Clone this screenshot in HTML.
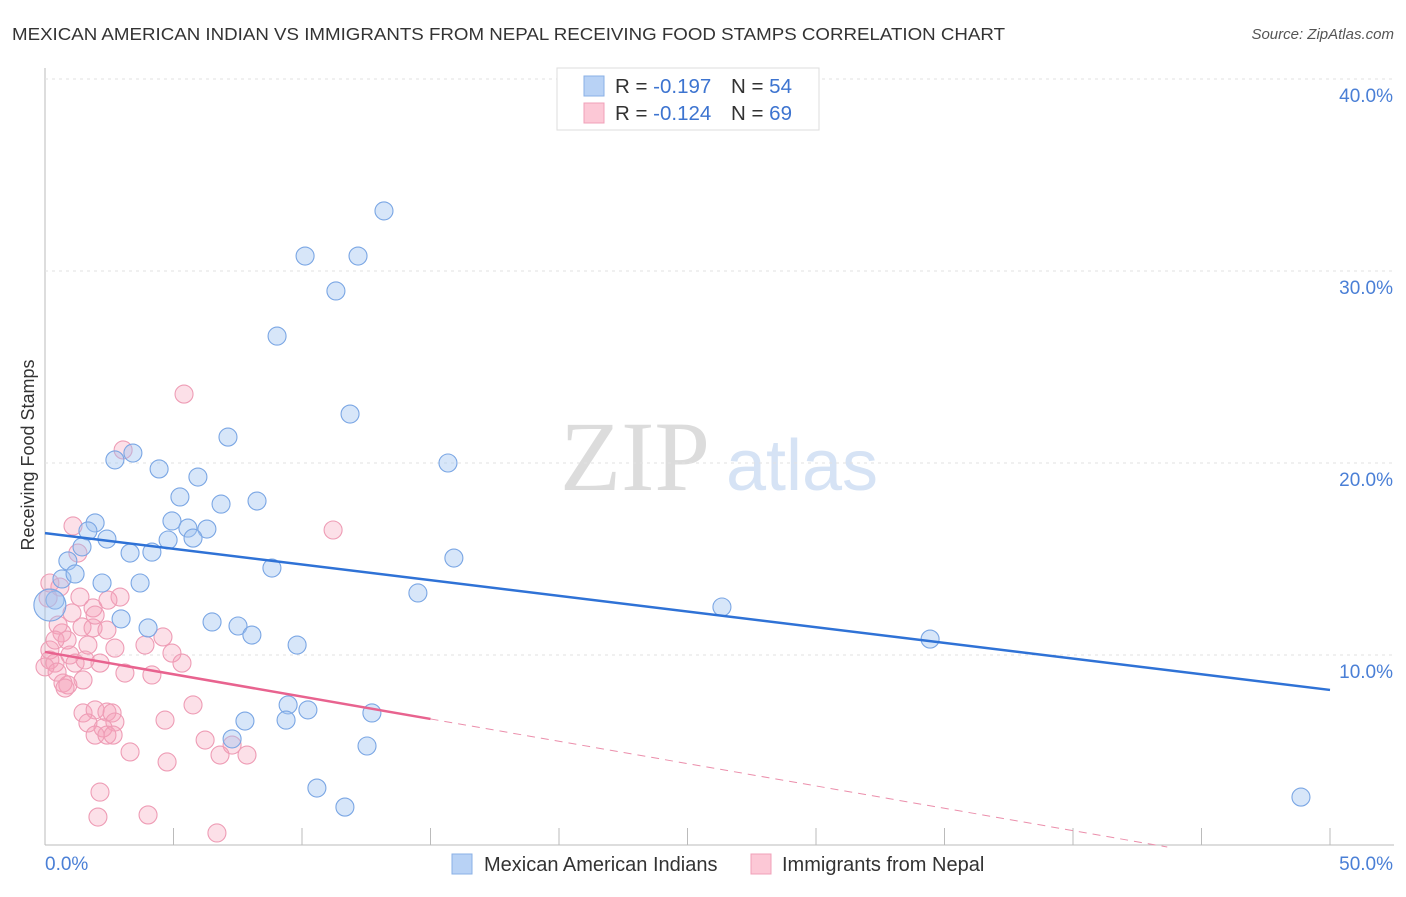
<!DOCTYPE html>
<html><head><meta charset="utf-8"><style>
body{margin:0;background:#fff;font-family:"Liberation Sans",sans-serif}
svg text{font-family:"Liberation Sans",sans-serif}
</style></head><body>
<svg id="c" width="1406" height="892" viewBox="0 0 1406 892" xmlns="http://www.w3.org/2000/svg">
<text x="12" y="40" font-size="17.5" fill="#333" textLength="993" lengthAdjust="spacingAndGlyphs">MEXICAN AMERICAN INDIAN VS IMMIGRANTS FROM NEPAL RECEIVING FOOD STAMPS CORRELATION CHART</text>
<text x="1394" y="39" font-size="15" fill="#555" font-style="italic" text-anchor="end">Source: ZipAtlas.com</text>
<text x="635" y="490" font-size="100" fill="#dcdcdc" text-anchor="middle" font-family="Liberation Serif" style="font-family:'Liberation Serif',serif">ZIP</text>
<text x="802" y="490" font-size="72" fill="#d6e3f5" text-anchor="middle">atlas</text>
<text transform="translate(34,455) rotate(-90)" font-size="18" fill="#333" text-anchor="middle">Receiving Food Stamps</text>
<g id="grid"></g><g id="marks"></g><g id="lines"></g>
<g>
<rect x="557" y="68" width="262" height="62" fill="#fff" stroke="#ddd"/>
<rect x="584" y="76" width="20" height="20" fill="#b8d2f5" stroke="#8ab0e6"/>
<rect x="584" y="103" width="20" height="20" fill="#fcc8d6" stroke="#f0a0b8"/>
<text x="615" y="93" font-size="20.5" fill="#333">R = <tspan fill="#3d74d0">-0.197</tspan><tspan x="731">N = </tspan><tspan fill="#3d74d0">54</tspan></text>
<text x="615" y="120" font-size="20.5" fill="#333">R = <tspan fill="#3d74d0">-0.124</tspan><tspan x="731">N = </tspan><tspan fill="#3d74d0">69</tspan></text>
</g>
<g>
<rect x="452" y="854" width="20" height="20" fill="#b8d2f5" stroke="#8ab0e6"/>
<text x="484" y="871" font-size="20" fill="#333">Mexican American Indians</text>
<rect x="751" y="854" width="20" height="20" fill="#fcc8d6" stroke="#f0a0b8"/>
<text x="782" y="871" font-size="20" fill="#333">Immigrants from Nepal</text>
</g>
</svg>
<script>
const xTicks=[0,5,10,15,20,25,30,35,40,45,50];
const yTicks=[10,20,30,40];
const yTickLabels=["10.0%","20.0%","30.0%","40.0%"];
const blueX=[13.19,10.12,12.18,11.32,9.03,11.87,7.12,15.68,3.42,2.72,4.44,5.95,5.25,6.85,8.25,1.95,4.94,1.67,5.56,6.30,2.41,4.79,5.76,3.31,4.16,15.91,0.89,1.44,8.83,0.66,1.17,2.22,3.70,14.51,26.34,0.39,2.96,4.01,6.50,7.51,8.05,9.81,34.44,9.46,10.23,12.72,7.78,9.38,7.28,12.53,10.58,11.67,48.87,0.19];
const blueY=[33.13,30.78,30.78,28.96,26.61,22.55,21.35,20.0,20.52,20.16,19.69,19.27,18.23,17.86,18.02,16.88,16.98,16.46,16.61,16.56,16.04,15.99,16.09,15.31,15.36,15.05,14.9,15.63,14.53,13.96,14.22,13.75,13.75,13.23,12.5,12.86,11.88,11.41,11.72,11.51,11.04,10.52,10.83,7.40,7.14,6.98,6.56,6.61,5.63,5.26,3.07,2.08,2.60,12.6];
const pinkX=[5.41,3.04,11.21,1.09,1.28,0.19,0.58,1.36,2.92,1.87,1.05,1.44,1.87,2.41,0.66,0.86,1.67,2.72,3.89,4.59,4.94,5.33,0.19,0.39,1.17,2.14,0.0,0.47,3.11,4.16,1.48,0.70,0.89,0.78,5.76,1.48,1.95,2.41,2.61,1.67,2.72,2.26,1.95,2.41,2.65,4.67,6.23,7.28,6.81,7.86,3.31,4.75,2.14,2.06,4.01,6.69,0.12,0.51,1.95,2.45,0.19,1.56,0.97,0.39];
const pinkY=[23.59,20.68,16.51,16.72,15.31,13.75,13.54,13.02,13.02,12.45,12.19,11.46,11.41,11.30,11.15,10.78,10.52,10.36,10.52,10.94,10.10,9.58,9.74,9.58,9.58,9.58,9.38,9.11,9.06,8.96,8.70,8.54,8.44,8.28,7.40,6.98,7.14,7.03,6.98,6.46,6.51,6.20,5.83,5.83,5.83,6.61,5.57,5.31,4.79,4.79,4.95,4.43,2.86,1.56,1.67,0.73,12.97,11.56,12.08,12.86,10.26,9.74,10.0,10.78];
const blueFit=[16.35,8.18];
const pinkFit=[10.16,6.67];
const pinkSolidEnd=15;
const NS="http://www.w3.org/2000/svg";
const X=v=>45+v*25.7, Y=v=>847-v*19.2;
function mk(t,a,p){const e=document.createElementNS(NS,t);for(const k in a)e.setAttribute(k,a[k]);p.appendChild(e);return e;}
const grid=document.getElementById('grid'),marks=document.getElementById('marks'),lines=document.getElementById('lines');
let ax=mk('line',{x1:45,y1:68,x2:45,y2:845,stroke:'#bbb'},grid);


let xa=mk('line',{x1:45,y1:845,x2:1394,y2:845,stroke:'#bbb'},grid);


mk('line',{x1:45,y1:79,x2:1394,y2:79,stroke:'#e2e2e2','stroke-dasharray':'3,4'},grid);
yTicks.forEach((t,i)=>{
 const g=mk('line',{x1:45,y1:Y(t),x2:1394,y2:Y(t),stroke:'#e2e2e2','stroke-dasharray':'3,4'},grid);
 
 
 const l=mk('text',{x:1393,y:Y(t)+23,'font-size':19,fill:'#4a7fd6','text-anchor':'end'},grid);l.textContent=yTickLabels[i];
 
 
});
xTicks.forEach((t,i)=>{if(i==0)return;
 const k=mk('line',{x1:X(t),y1:828,x2:X(t),y2:845,stroke:'#bbb'},grid);
 
 
});
let l0=mk('text',{x:45,y:870,'font-size':19,fill:'#4a7fd6'},grid);l0.textContent='0.0%';


let l1=mk('text',{x:1393,y:870,'font-size':19,fill:'#4a7fd6','text-anchor':'end'},grid);l1.textContent='50.0%';


pinkX.forEach((x,i)=>{const c=mk('circle',{cx:X(x),cy:Y(pinkY[i]),r:9,fill:'rgba(245,160,185,0.32)',stroke:'#ee9cb5','stroke-width':1.1},marks);
 
 });
blueX.forEach((x,i)=>{const big=i==blueX.length-1;const c=mk('circle',{cx:X(x),cy:Y(blueY[i]),r:big?16:9,fill:'rgba(160,196,240,0.42)',stroke:'#7aa6e4','stroke-width':1.1},marks);
 
 });
let bl=mk('line',{x1:X(0),y1:Y(blueFit[0]),x2:X(50),y2:Y(blueFit[1]),stroke:'#2f72d6','stroke-width':2.5},lines);


const slope=(pinkFit[1]-pinkFit[0])/pinkSolidEnd, xz=-pinkFit[0]/slope;
let pl=mk('line',{x1:X(0),y1:Y(pinkFit[0]),x2:X(pinkSolidEnd),y2:Y(pinkFit[1]),stroke:'#e8638f','stroke-width':2.5},lines);


let pd=mk('line',{x1:X(pinkSolidEnd),y1:Y(pinkFit[1]),x2:X(xz),y2:Y(0),stroke:'#eb8eab','stroke-width':1,'stroke-dasharray':'8,6'},lines);


</script>
</body></html>
